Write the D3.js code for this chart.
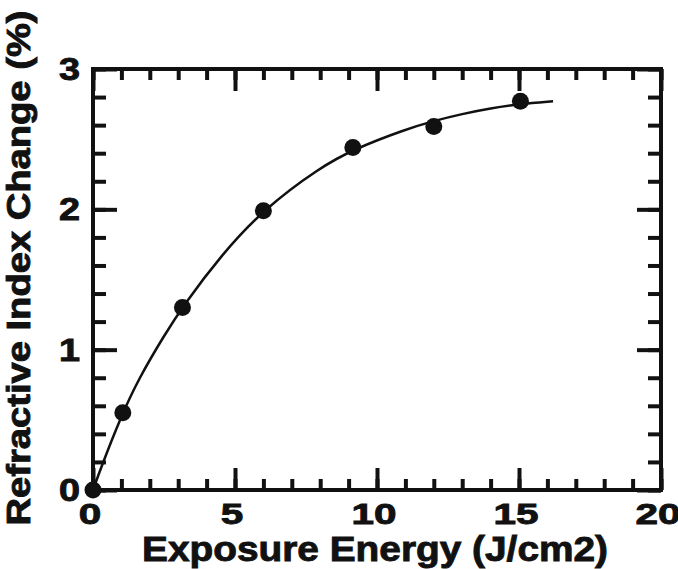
<!DOCTYPE html>
<html>
<head>
<meta charset="utf-8">
<script src="https://cdn.jsdelivr.net/npm/d3@7"></script>
<style>
  html, body { margin: 0; padding: 0; background: #fff; }
  svg { display: block; }
  text { font-family: "Liberation Sans", Arial, Helvetica, sans-serif; font-weight: bold; fill: #111; stroke: #111; stroke-width: 0.9px; }
</style>
</head>
<body>
<script>
// Measured points: exposure energy (J/cm2) vs refractive index change (%)
const energy = [0, 1.05, 3.15, 6.0, 9.15, 12.0, 15.05];
const indexChange = [0, 0.55, 1.30, 1.99, 2.44, 2.59, 2.77];

// Trend line traced through the data
const fitEnergy = [0, 0.3, 1.0, 1.6, 2.5, 3.2, 4.5, 6.0, 8.0, 9.2, 11.0, 12.0, 13.0, 14.0, 15.0, 16.2];
const fitChange = [0, 0.17, 0.53, 0.79, 1.10, 1.32, 1.67, 2.00, 2.30, 2.43, 2.57, 2.63, 2.68, 2.72, 2.75, 2.77];

const xTickLabels = [0, 5, 10, 15, 20];
const yTickLabels = [0, 1, 2, 3];
const xTitle = "Exposure Energy (J/cm2)";
const yTitle = "Refractive Index Change (%)";

const W = 678, H = 569;
const m = { left: 93, top: 69, right: 17, bottom: 79 };
const iw = W - m.left - m.right, ih = H - m.top - m.bottom;

const svg = d3.select("body").append("svg").attr("width", W).attr("height", H);
const g = svg.append("g").attr("transform", `translate(${m.left},${m.top})`);

const x = d3.scaleLinear().domain([0, 20]).range([0, iw]);
const y = d3.scaleLinear().domain([0, 3]).range([ih, 0]);

const xMinor = d3.range(0, 21, 1);
const yMinor = d3.range(0, 3.0001, 0.2).map(v => +v.toFixed(1));

function styleTicks(sel) {
  sel.select(".domain").remove();
  sel.selectAll(".tick line").attr("stroke", "#111").attr("stroke-width", 4);
}

// Inward ticks on all four sides
const minX = 11, majX = 22, minY = 13, majY = 24;
g.append("g").attr("transform", `translate(0,${ih})`)
  .call(d3.axisBottom(x).tickValues(xMinor).tickSize(-minX).tickFormat(""))
  .call(styleTicks);
g.append("g").attr("transform", `translate(0,${ih})`)
  .call(d3.axisBottom(x).tickValues(xTickLabels).tickSize(-majX).tickFormat(""))
  .call(styleTicks);
g.append("g")
  .call(d3.axisTop(x).tickValues(xMinor).tickSize(-minX).tickFormat(""))
  .call(styleTicks);
g.append("g")
  .call(d3.axisTop(x).tickValues(xTickLabels).tickSize(-majX).tickFormat(""))
  .call(styleTicks);
g.append("g")
  .call(d3.axisLeft(y).tickValues(yMinor).tickSize(-minY).tickFormat(""))
  .call(styleTicks);
g.append("g")
  .call(d3.axisLeft(y).tickValues(yTickLabels).tickSize(-majY).tickFormat(""))
  .call(styleTicks);
g.append("g").attr("transform", `translate(${iw},0)`)
  .call(d3.axisRight(y).tickValues(yMinor).tickSize(-minY).tickFormat(""))
  .call(styleTicks);
g.append("g").attr("transform", `translate(${iw},0)`)
  .call(d3.axisRight(y).tickValues(yTickLabels).tickSize(-majY).tickFormat(""))
  .call(styleTicks);

// Frame
g.append("rect").attr("x", 0).attr("y", 0).attr("width", iw).attr("height", ih)
  .attr("fill", "none").attr("stroke", "#111").attr("stroke-width", 4);

// Tick labels (wide bold digits)
g.append("g").attr("class", "xlabels")
  .selectAll("text").data(xTickLabels).join("text")
  .attr("x", d => x(d) - 3).attr("y", ih + 34)
  .attr("text-anchor", "middle").attr("font-size", 30)
  .attr("textLength", d => String(d).length * 22.5)
  .attr("lengthAdjust", "spacingAndGlyphs")
  .text(d => d);

g.append("g").attr("class", "ylabels")
  .selectAll("text").data(yTickLabels).join("text")
  .attr("x", -13).attr("y", d => y(d) + 11)
  .attr("text-anchor", "end").attr("font-size", 31)
  .attr("textLength", 21).attr("lengthAdjust", "spacingAndGlyphs")
  .text(d => d);

// Axis titles
svg.append("text")
  .attr("x", 375).attr("y", 561)
  .attr("text-anchor", "middle").attr("font-size", 35)
  .attr("textLength", 466).attr("lengthAdjust", "spacingAndGlyphs")
  .text(xTitle);

svg.append("text")
  .attr("transform", `translate(30,${268}) rotate(-90)`)
  .attr("text-anchor", "middle").attr("font-size", 33)
  .attr("textLength", 515).attr("lengthAdjust", "spacingAndGlyphs")
  .text(yTitle);

// Trend line
const fit = fitEnergy.map((e, i) => [e, fitChange[i]]);
g.append("path").datum(fit)
  .attr("fill", "none").attr("stroke", "#111").attr("stroke-width", 2.5)
  .attr("d", d3.line().x(d => x(d[0])).y(d => y(d[1])).curve(d3.curveBasis));

// Data points
g.append("g").selectAll("circle").data(energy.map((e, i) => [e, indexChange[i]]))
  .join("circle")
  .attr("cx", d => x(d[0])).attr("cy", d => y(d[1])).attr("r", 8.5)
  .attr("fill", "#111");
</script>
</body>
</html>
